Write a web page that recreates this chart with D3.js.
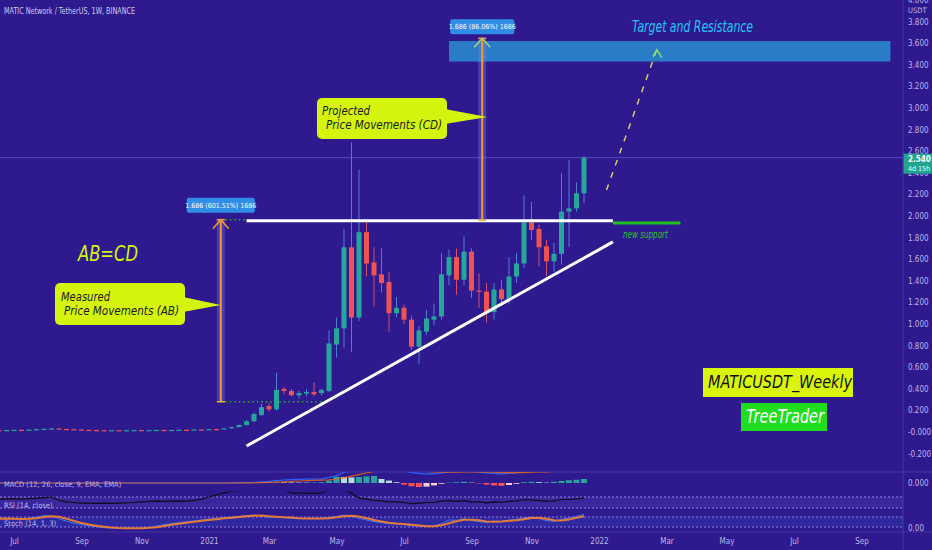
<!DOCTYPE html>
<html>
<head>
<meta charset="utf-8">
<script src="https://cdn.jsdelivr.net/npm/d3@7"></script>
<style>
html, body { margin: 0; padding: 0; background: #2e1a8e; }
svg { display: block; }
</style>
</head>
<body>
<svg id="chart" width="932" height="550"></svg>
<script>
// ---- data ----
var weekStart = "2020-06-22";

var opens  = [.018,.017,.018,.020,.019,.022,.026,.030,.033,.028,.026,.023,.020,.018,.017,.016,.017,.016,.017,.018,.017,.018,.019,.018,.019,.021,.020,.023,.022,.027,.026,.034,
              .045,.065,.10,.157,.24,.21,.398,.38,.34,.355,.37,.36,.38,.81,.96,1.71,1.06,1.85,1.57,1.46,1.39,1.10,1.15,1.04,.79,.93,1.04,1.07,1.45,1.62,1.41,1.67,1.31,1.30,1.11,1.32,1.23,1.44,1.56,1.94,1.88,1.72,1.58,1.65,2.04,2.07,2.21];
var highs  = [.019,.019,.021,.022,.023,.027,.032,.036,.035,.031,.029,.025,.022,.020,.019,.018,.018,.018,.019,.020,.019,.020,.021,.020,.022,.023,.024,.026,.028,.030,.036,.048,
              .070,.11,.18,.26,.27,.55,.42,.40,.38,.40,.46,.40,.94,1.06,1.88,2.68,2.43,1.96,1.71,1.70,1.48,1.25,1.18,1.08,.98,1.13,1.19,1.66,1.69,1.70,1.81,1.70,1.47,1.38,1.38,1.41,1.62,1.66,2.19,2.13,1.92,1.78,1.75,2.40,2.52,2.31,2.56];
var lows   = [.016,.016,.017,.018,.018,.021,.024,.027,.026,.024,.022,.019,.017,.016,.015,.015,.015,.015,.016,.016,.016,.017,.017,.017,.018,.019,.019,.021,.021,.024,.025,.032,
              .042,.06,.09,.15,.19,.20,.35,.33,.31,.33,.33,.34,.37,.69,.78,.74,1.03,1.44,1.16,1.29,.93,1.06,1.00,.76,.63,.90,.99,1.04,1.36,1.27,1.36,1.24,1.15,1.01,1.04,1.18,1.19,1.38,1.52,1.78,1.53,1.44,1.48,1.55,1.71,2.04,2.12];
var closes = [.017,.018,.020,.019,.022,.026,.030,.033,.028,.026,.023,.020,.018,.017,.016,.017,.016,.017,.018,.017,.018,.019,.018,.019,.021,.020,.023,.022,.027,.026,.034,.045,
              .065,.10,.167,.23,.21,.39,.38,.34,.36,.37,.35,.39,.82,.96,1.71,1.06,1.85,1.56,1.45,1.38,1.10,1.15,1.04,.79,.94,1.05,1.07,1.46,1.62,1.41,1.67,1.31,1.30,1.11,1.32,1.23,1.44,1.56,1.94,1.87,1.71,1.58,1.65,2.04,2.07,2.21,2.54];

var macdHist   = [0,0,0,0,0,0,0,0,0,0,0,0,0,0,0,0,0,0,0,0,0,0,0,0,0,0,0,0,0,0,0,0,
                  .002,.005,.008,.012,.01,.02,.018,.014,.012,.01,.012,.01,.06,.16,.15,.14,.15,.165,.175,.10,.06,.02,-.04,-.08,-.10,-.09,-.06,-.02,.01,.02,.03,.01,-.01,-.04,-.06,-.07,-.05,-.02,.02,.03,.02,.01,.03,.05,.07,.08,.10];
var macdLine   = [0,0,0,0,0,0,0,0,0,0,0,0,0,0,0,0,0,0,0,0,0,0,0,0,0,0,0,0,0,0,0,.001,
                  .003,.008,.016,.03,.04,.06,.075,.085,.09,.095,.10,.105,.14,.18,.27,.30,.38,.42,.42,.41,.38,.35,.31,.26,.24,.23,.23,.25,.28,.29,.31,.30,.28,.25,.24,.23,.24,.25,.29,.31,.31,.30,.30,.33,.36,.38,.42];
var macdSignal = [0,0,0,0,0,0,0,0,0,0,0,0,0,0,0,0,0,0,0,0,0,0,0,0,0,0,0,0,0,0,0,0,
                  .001,.003,.005,.01,.015,.022,.03,.04,.05,.058,.065,.072,.08,.10,.13,.17,.21,.25,.29,.31,.33,.33,.33,.32,.30,.29,.28,.27,.27,.27,.28,.28,.28,.27,.27,.26,.26,.26,.26,.27,.28,.28,.29,.30,.31,.32,.33];
var rsiValues  = [62,63,64,62,64,66,68,70,58,52,50,48,48,47,48,47,48,49,50,52,54,55,54,55,56,55,58,62,70,78,85,90,
                  93,95,97,98,97,98,96,84,84,84,83,85,96,97,98,84,66,62,58,56,52,52,50,46,48,50,50,55,57,54,57,52,52,49,52,51,54,56,60,59,57,55,56,61,61,63,66];
var stochK     = [72,70,68,66,72,80,88,85,70,55,42,35,28,22,16,14,12,14,12,14,18,26,34,40,46,52,56,62,68,72,76,80,
                  84,88,92,86,78,82,76,72,70,72,70,72,78,84,92,86,72,62,52,46,40,38,35,28,24,24,26,40,62,60,70,58,52,48,56,54,60,66,76,80,70,58,54,66,74,84,96];
var stochD     = [70,71,70,68,69,73,80,84,81,70,56,44,35,28,22,17,14,13,13,13,15,19,26,33,40,46,51,57,62,67,72,76,
                  80,84,88,89,85,82,79,77,73,71,71,71,73,78,85,87,83,73,62,53,46,41,38,34,29,25,25,30,43,54,64,63,60,53,52,53,57,60,67,74,75,69,61,59,65,75,85];

var priceTicks = [4.0,3.8,3.6,3.4,3.2,3.0,2.8,2.6,2.4,2.2,2.0,1.8,1.6,1.4,1.2,1.0,0.8,0.6,0.4,0.2,0.0,-0.2];
var timeTickDates  = ["2020-07-06","2020-09-07","2020-11-02","2021-01-04","2021-03-01","2021-05-03","2021-07-05","2021-09-06","2021-11-01","2022-01-03","2022-03-07","2022-05-02","2022-07-04","2022-09-05"];
var timeTickLabels = ["Jul","Sep","Nov","2021","Mar","May","Jul","Sep","Nov","2022","Mar","May","Jul","Sep"];

var lastPrice = 2.540;
var lastCountdown = "4d 15h";

// drawings: [date, price]
var resistanceLine = [["2021-02-08", 1.955], ["2022-01-16", 1.955]];
var supportLine    = [["2022-01-16", 1.935], ["2022-03-20", 1.935]];
var trendLine      = [["2021-02-08", -0.13], ["2022-01-16", 1.76]];
var abArrow        = [["2021-01-15", 0.2803], ["2021-01-15", 1.966]];
var cdArrow        = [["2021-09-16", 1.959], ["2021-09-16", 3.645]];
var abBaseDots     = [["2021-01-15", 0.2803], ["2021-04-24", 0.2803]];
var abTopDots      = [["2021-01-15", 1.966], ["2021-02-08", 1.966]];
var targetZone     = [["2021-08-16", 3.62], ["2022-10-02", 3.43]];
var projection     = [["2022-01-10", 2.24], ["2022-02-26", 3.54]];
var abLabel = "1.686 (601.51%) 1686";
var cdLabel = "1.686 (86.06%) 1686";

// ---- setup ----
var svg = d3.select("#chart");
var W = 932, H = 550, axisX = 903;
var bg = "#2e1a8e", grid = "#4636a8", txt = "#bdb5e6";
var axisFont = "'Liberation Sans Narrow','DejaVu Sans Condensed','Liberation Sans',sans-serif";
var noteFont = "'Liberation Sans Narrow','DejaVu Sans Condensed','Open Sans',sans-serif";
var up = "#26a69a", down = "#ef5350";

var parse = d3.utcParse("%Y-%m-%d");
var x = d3.scaleUtc().domain([parse("2020-06-22"), parse("2021-12-20")]).range([-1, 584]);
var y = d3.scaleLinear().domain([0, 4]).range([432, 0]);
var yMacd = d3.scaleLinear().domain([0, 0.275]).range([483, 472]);
var yRsi = d3.scaleLinear().domain([30, 70]).range([508, 497]);
var yStoch = d3.scaleLinear().domain([20, 80]).range([527, 517]);

var weekDates = opens.map(function(d, i){ return d3.utcDay.offset(parse(weekStart), 7 * i); });
var candles = opens.map(function(o, i){
	return {date: weekDates[i], o: o, h: highs[i], l: lows[i], c: closes[i]};
});
var px = function(p){ return x(parse(p[0])); };
var py = function(p){ return y(p[1]); };

svg.append("rect").attr("width", W).attr("height", H).attr("fill", bg);

var defs = svg.append("defs");
var clips = [["clipMain", 0, 472], ["clipMacd", 472, 491.5], ["clipRsi", 491.5, 513], ["clipStoch", 513, 532]];
clips.forEach(function(c){
	defs.append("clipPath").attr("id", c[0]).append("rect")
		.attr("x", 0).attr("y", c[1]).attr("width", axisX).attr("height", c[2] - c[1]);
});

// pane separators
svg.append("line").attr("x1", 0).attr("x2", W).attr("y1", 472).attr("y2", 472).attr("stroke", grid);
svg.append("line").attr("x1", 0).attr("x2", W).attr("y1", 532).attr("y2", 532).attr("stroke", grid);
svg.append("line").attr("x1", axisX).attr("x2", axisX).attr("y1", 0).attr("y2", H).attr("stroke", grid);

// ---- main pane ----
var main = svg.append("g").attr("clip-path", "url(#clipMain)");

// last price line
main.append("line").attr("x1", 0).attr("x2", axisX)
	.attr("y1", y(lastPrice)).attr("y2", y(lastPrice))
	.attr("stroke", "#5549b8").attr("stroke-width", 1);

// target zone
main.append("rect")
	.attr("x", px(targetZone[0])).attr("y", py(targetZone[0]))
	.attr("width", px(targetZone[1]) - px(targetZone[0]))
	.attr("height", py(targetZone[1]) - py(targetZone[0]))
	.attr("fill", "#2a7cc7");

// candles
main.selectAll("line.wick").data(candles).enter().append("line")
	.attr("class", "wick")
	.attr("x1", function(d){ return x(d.date); })
	.attr("x2", function(d){ return x(d.date); })
	.attr("y1", function(d){ return y(d.h); })
	.attr("y2", function(d){ return y(d.l); })
	.attr("stroke", function(d){ return d.c >= d.o ? "#4f7fd0" : "#d05068"; })
	.attr("stroke-width", 1);

main.selectAll("rect.body").data(candles).enter().append("rect")
	.attr("class", "body")
	.attr("x", function(d){ return x(d.date) - 2.5; })
	.attr("width", 5)
	.attr("y", function(d){ return y(Math.max(d.o, d.c)); })
	.attr("height", function(d){ return Math.max(1.2, Math.abs(y(d.o) - y(d.c))); })
	.attr("fill", function(d){ return d.c >= d.o ? up : down; });

// dotted guides of the AB measure
[abBaseDots, abTopDots].forEach(function(seg){
	main.append("line")
		.attr("x1", px(seg[0])).attr("x2", px(seg[1]))
		.attr("y1", py(seg[0])).attr("y2", py(seg[1]))
		.attr("stroke", "#2fae3a").attr("stroke-width", 1.5).attr("stroke-dasharray", "1.5,3");
});

// white lines
[resistanceLine, trendLine].forEach(function(seg){
	main.append("line")
		.attr("x1", px(seg[0])).attr("x2", px(seg[1]))
		.attr("y1", py(seg[0])).attr("y2", py(seg[1]))
		.attr("stroke", "#ffffff").attr("stroke-width", 3).attr("stroke-linecap", "butt");
});
main.append("line")
	.attr("x1", px(supportLine[0])).attr("x2", px(supportLine[1]))
	.attr("y1", py(supportLine[0])).attr("y2", py(supportLine[1]))
	.attr("stroke", "#1fc21f").attr("stroke-width", 3);

main.append("text").text("new support")
	.attr("x", px(supportLine[0]) + 10).attr("y", py(supportLine[0]) + 15)
	.attr("font-family", noteFont).attr("font-style", "italic").attr("font-size", 10)
	.attr("textLength", 45).attr("lengthAdjust", "spacingAndGlyphs")
	.attr("fill", "#27c22b");

// projected path
main.append("line")
	.attr("x1", px(projection[0])).attr("x2", px(projection[1]))
	.attr("y1", py(projection[0])).attr("y2", py(projection[1]))
	.attr("stroke", "#d8cb6a").attr("stroke-width", 1.5).attr("stroke-dasharray", "6,7");
var tipX = px(projection[1]), tipY = py(projection[1]);
main.append("path")
	.attr("d", "M" + (tipX - 4) + "," + (tipY + 7) + "L" + tipX + "," + tipY + "L" + (tipX + 5) + "," + (tipY + 8))
	.attr("fill", "none").attr("stroke", "#82e05e").attr("stroke-width", 1.5);

// price range arrows
function drawArrow(seg, headColor, label, labelW, gap){
	var ax = px(seg[0]), y0 = py(seg[0]), y1 = py(seg[1]);
	main.append("rect").attr("x", ax - 4).attr("width", 8)
		.attr("y", y1).attr("height", y0 - y1)
		.attr("fill", "rgba(120,130,235,0.35)");
	main.append("line").attr("x1", ax).attr("x2", ax).attr("y1", y0).attr("y2", y1)
		.attr("stroke", "#f39a34").attr("stroke-width", 2);
	main.append("line").attr("x1", ax - 4).attr("x2", ax + 4).attr("y1", y0).attr("y2", y0)
		.attr("stroke", "#e8b83a").attr("stroke-width", 1.5);
	main.append("line").attr("x1", ax - 4).attr("x2", ax + 4).attr("y1", y1).attr("y2", y1)
		.attr("stroke", "#f39a34").attr("stroke-width", 1.5);
	main.append("path")
		.attr("d", "M" + (ax - 8) + "," + (y1 + 9) + "L" + ax + "," + y1 + "L" + (ax + 8) + "," + (y1 + 9))
		.attr("fill", "none").attr("stroke", headColor).attr("stroke-width", 1.5);
	main.append("rect").attr("x", ax - labelW / 2).attr("y", y1 - gap - 15)
		.attr("width", labelW).attr("height", 15).attr("rx", 2)
		.attr("fill", "#2f8de8");
	main.append("text").text(label)
		.attr("x", ax).attr("y", y1 - gap - 5).attr("text-anchor", "middle")
		.attr("font-family", axisFont).attr("font-size", 7).attr("fill", "#ffffff");
}
drawArrow(abArrow, "#f39a34", abLabel, 68, 7);
drawArrow(cdArrow, "#a9d46a", cdLabel, 64, 4);

// callouts
function callout(bx, by, bw, bh, tip, lines){
	var g = main.append("g");
	var midY = tip[1];
	g.append("path")
		.attr("d", "M" + (bx + bw - 2) + "," + (midY - 8) + "L" + tip[0] + "," + tip[1] + "L" + (bx + bw - 2) + "," + (midY + 7) + "Z")
		.attr("fill", "#d4f30d");
	g.append("rect").attr("x", bx).attr("y", by).attr("width", bw).attr("height", bh)
		.attr("rx", 5).attr("fill", "#d4f30d");
	lines.forEach(function(l){
		g.append("text").text(l.t)
			.attr("x", l.x).attr("y", l.y)
			.attr("font-family", noteFont).attr("font-style", "italic").attr("font-size", 13)
			.attr("textLength", l.w).attr("lengthAdjust", "spacingAndGlyphs")
			.attr("fill", "#1b1b1b");
	});
}
callout(55, 283, 130, 42, [px(abArrow[0]), 305], [
	{t: "Measured", x: 61, y: 301, w: 49},
	{t: "Price Movements (AB)", x: 64, y: 314.5, w: 115}
]);
callout(317, 98, 130, 41, [px(cdArrow[0]) + 5, 117], [
	{t: "Projected", x: 322, y: 115, w: 48},
	{t: "Price Movements (CD)", x: 326, y: 128.5, w: 116}
]);

main.append("text").text("AB=CD")
	.attr("x", 78).attr("y", 261)
	.attr("font-family", noteFont).attr("font-style", "italic").attr("font-size", 22)
	.attr("textLength", 60).attr("lengthAdjust", "spacingAndGlyphs")
	.attr("fill", "#d4f30d");

main.append("text").text("Target and Resistance")
	.attr("x", 632).attr("y", 32)
	.attr("font-family", noteFont).attr("font-style", "italic").attr("font-size", 16)
	.attr("textLength", 121).attr("lengthAdjust", "spacingAndGlyphs")
	.attr("fill", "#22c6f2");

main.append("rect").attr("x", 703).attr("y", 368).attr("width", 150).attr("height", 29).attr("fill", "#d8f50a");
main.append("text").text("MATICUSDT_Weekly")
	.attr("x", 708).attr("y", 388)
	.attr("font-family", noteFont).attr("font-style", "italic").attr("font-size", 18)
	.attr("textLength", 144).attr("lengthAdjust", "spacingAndGlyphs")
	.attr("fill", "#111111");

main.append("rect").attr("x", 741).attr("y", 403).attr("width", 86).attr("height", 28).attr("fill", "#1fde20");
main.append("text").text("TreeTrader")
	.attr("x", 746).attr("y", 423)
	.attr("font-family", noteFont).attr("font-style", "italic").attr("font-size", 19)
	.attr("textLength", 78).attr("lengthAdjust", "spacingAndGlyphs")
	.attr("fill", "#ffffff");

// ---- MACD pane ----
var macd = svg.append("g").attr("clip-path", "url(#clipMacd)");
macd.selectAll("rect").data(macdHist).enter().append("rect")
	.attr("x", function(d, i){ return x(weekDates[i]) - 3; })
	.attr("width", 6)
	.attr("y", function(d){ return Math.min(yMacd(d), yMacd(0)); })
	.attr("height", function(d){ return Math.abs(yMacd(d) - yMacd(0)); })
	.attr("fill", function(d, i){
		var prev = i > 0 ? macdHist[i - 1] : 0;
		if(d >= 0){ return d >= prev ? "#26a69a" : "#b2dfdb"; }
		return d < prev ? "#ff5252" : "#ffcdd2";
	});
var macdPath = d3.line().x(function(d, i){ return x(weekDates[i]); }).y(function(d){ return yMacd(d); });
macd.append("path").datum(macdLine).attr("d", macdPath)
	.attr("fill", "none").attr("stroke", "#2962ff").attr("stroke-width", 1.2);
macd.append("path").datum(macdSignal).attr("d", macdPath)
	.attr("fill", "none").attr("stroke", "#ff6d00").attr("stroke-width", 1.2).attr("opacity", 0.75);

// ---- RSI pane ----
var rsi = svg.append("g").attr("clip-path", "url(#clipRsi)");
rsi.append("rect").attr("x", 0).attr("width", axisX).attr("y", yRsi(70)).attr("height", yRsi(30) - yRsi(70))
	.attr("fill", "rgba(150,115,235,0.14)");
[70, 30].forEach(function(v){
	rsi.append("line").attr("x1", 0).attr("x2", axisX).attr("y1", yRsi(v)).attr("y2", yRsi(v))
		.attr("stroke", "#9484e0").attr("stroke-dasharray", "2,2");
});
rsi.append("path").datum(rsiValues)
	.attr("d", d3.line().x(function(d, i){ return x(weekDates[i]); }).y(function(d){ return yRsi(d); }))
	.attr("fill", "none").attr("stroke", "#0c0c1a").attr("stroke-width", 1.2);

// ---- Stoch pane ----
var stoch = svg.append("g").attr("clip-path", "url(#clipStoch)");
stoch.append("rect").attr("x", 0).attr("width", axisX).attr("y", yStoch(80)).attr("height", yStoch(20) - yStoch(80))
	.attr("fill", "rgba(60,120,255,0.16)");
[80, 20].forEach(function(v){
	stoch.append("line").attr("x1", 0).attr("x2", axisX).attr("y1", yStoch(v)).attr("y2", yStoch(v))
		.attr("stroke", "#9484e0").attr("stroke-dasharray", "2,2");
});
var stochPath = d3.line().x(function(d, i){ return x(weekDates[i]); }).y(function(d){ return yStoch(d); });
stoch.append("path").datum(stochK).attr("d", stochPath)
	.attr("fill", "none").attr("stroke", "#3f78f5").attr("stroke-width", 1);
stoch.append("path").datum(stochD).attr("d", stochPath)
	.attr("fill", "none").attr("stroke", "#e57a34").attr("stroke-width", 2);

// ---- pane titles ----
var titles = [["MACD (12, 26, close, 9, EMA, EMA)", 486.5], ["RSI (14, close)", 507.5], ["Stoch (14, 1, 3)", 525.5]];
titles.forEach(function(t){
	svg.append("text").text(t[0]).attr("x", 4).attr("y", t[1])
		.attr("font-family", axisFont).attr("font-size", 7.5).attr("fill", txt);
});
svg.append("text").text("MATIC Network / TetherUS, 1W, BINANCE")
	.attr("x", 4).attr("y", 13.5)
	.attr("font-family", axisFont).attr("font-size", 8.5)
	.attr("textLength", 131).attr("lengthAdjust", "spacingAndGlyphs")
	.attr("fill", "#cfcaf0");

// ---- axes ----
var priceAxis = d3.axisRight(y).tickValues(priceTicks).tickSize(0).tickPadding(5)
	.tickFormat(function(v){ return v <= 0 ? "-" + Math.abs(v).toFixed(3) : v.toFixed(3); });
var pa = svg.append("g").attr("transform", "translate(" + axisX + ",0)").call(priceAxis);
pa.select(".domain").remove();
pa.selectAll("text").attr("font-family", axisFont).attr("font-size", 8).attr("fill", txt);

svg.append("text").text("USDT").attr("x", 908).attr("y", 13)
	.attr("font-family", axisFont).attr("font-size", 7.5).attr("fill", txt);
svg.append("text").text("0.000").attr("x", 908).attr("y", yMacd(0) + 3)
	.attr("font-family", axisFont).attr("font-size", 8).attr("fill", txt);
svg.append("text").text("0.00").attr("x", 908).attr("y", 531)
	.attr("font-family", axisFont).attr("font-size", 8).attr("fill", txt);

// last price badge
svg.append("rect").attr("x", axisX + 0.5).attr("y", y(lastPrice) - 4).attr("width", W - axisX).attr("height", 20)
	.attr("fill", "#22a58f");
svg.append("text").text(lastPrice.toFixed(3)).attr("x", 908).attr("y", y(lastPrice) + 4)
	.attr("font-family", axisFont).attr("font-size", 8).attr("font-weight", "bold").attr("fill", "#ffffff");
svg.append("text").text(lastCountdown).attr("x", 908).attr("y", y(lastPrice) + 13)
	.attr("font-family", axisFont).attr("font-size", 7).attr("fill", "#e8fff8");

var timeAxis = d3.axisBottom(x)
	.tickValues(timeTickDates.map(parse)).tickSize(0).tickPadding(5)
	.tickFormat(function(d, i){ return timeTickLabels[i]; });
var ta = svg.append("g").attr("transform", "translate(0,533)").call(timeAxis);
ta.select(".domain").remove();
ta.selectAll("text").attr("font-family", axisFont).attr("font-size", 8).attr("fill", txt);
</script>
</body>
</html>
